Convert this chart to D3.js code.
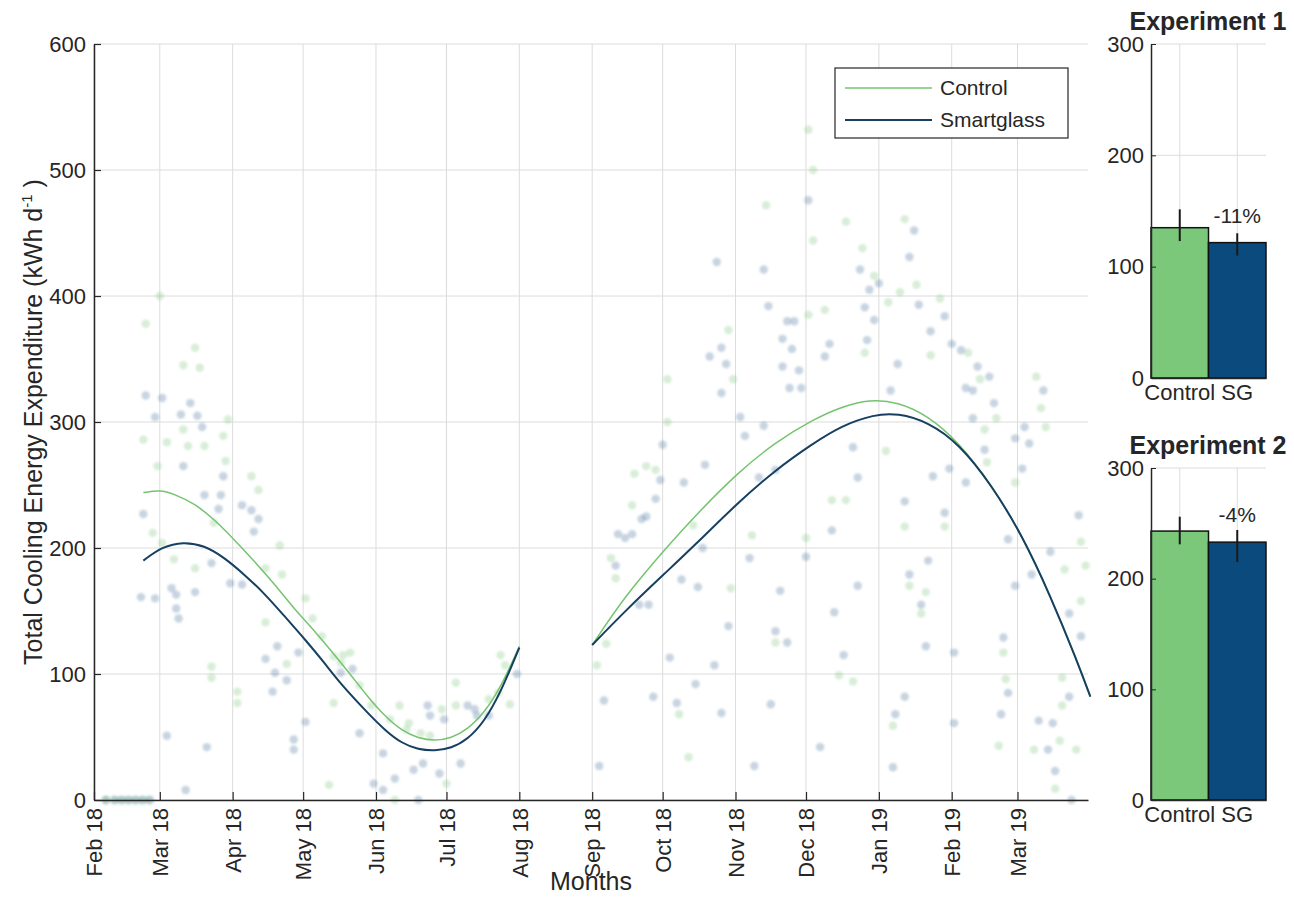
<!DOCTYPE html>
<html><head><meta charset="utf-8">
<script src="https://cdn.jsdelivr.net/npm/d3@7"></script>
<style>
body{margin:0;background:#fff}
svg{display:block}
text{font-family:"Liberation Sans",Arial,Helvetica,sans-serif;fill:#262626}
</style>
</head><body>
<svg id="c" width="1294" height="914"></svg>
<script>
// ---------------- data ----------------
const startDate = "2018-02-01";
const endDate = "2019-03-31";
const monthTicks = ["2018-02-01","2018-03-01","2018-04-01","2018-05-01","2018-06-01","2018-07-01","2018-08-01",
  "2018-09-01","2018-10-01","2018-11-01","2018-12-01","2019-01-01","2019-02-01","2019-03-01"];
const yTicks = [0,100,200,300,400,500,600];
const seriesNames = ["Control","Smartglass"];

// daily points: [days since 2018-02-01, kWh/d]
const controlPts = [[5,0],[8,0],[11,0],[14,0],[17,0],[20,0],[23,0],
 [22,378],[28,400],[43,359],[38,345],[45,343],[57,302],[38,294],[21,286],[31,284],[47,281],[55,289],[40,281],[27,265],
 [56,269],[67,257],[70,246],[25,212],[51,220],[29,204],[34,191],[43,184],[73,184],[80,179],[79,202],[90,160],[93,144],
 [97,130],[102,114],[105,109],[82,108],[73,141],[50,106],[50,97],[61,86],[61,77],[100,12],[102,77],
 [106,115],[109,117],[113,91],[118,75],[130,75],[126,64],[134,61],[139,53],[143,51],[150,13],[154,93],[154,75],
 [168,80],[172,85],[175,107],[177,76],[173,115],[148,72],[133,56],[128,0],
 [229,234],[220,192],[222,176],[230,259],[235,265],[239,262],[244,300],[244,334],[255,218],[218,124],[214,107],
 [249,68],[253,34],[270,373],[272,334],[271,168],[280,210],[290,125],[303,208],[304,385],[311,389],[314,238],[317,99],
 [286,472],[304,532],[306,500],[306,444],
 [320,459],[345,461],[327,438],[332,416],[328,355],[338,395],[343,403],[350,409],[360,398],[356,353],[372,355],[377,334],
 [384,303],[379,294],[401,336],[403,311],[405,296],[380,268],[337,277],[320,238],[392,252],[345,217],[362,217],[413,183],
 [420,205],[422,186],[420,158],[347,170],[354,165],[352,148],[323,94],[340,59],[387,117],[388,96],[385,43],[412,97],
 [412,75],[411,47],[400,40],[409,9],[418,40]];

const sgPts = [[5,0],[9,0],[12,0],[15,0],[18,0],[21,0],[24,0],
 [22,321],[29,319],[41,315],[26,304],[37,306],[44,305],[46,296],[38,265],[55,257],[47,242],[54,242],[53,231],[63,234],
 [67,230],[70,223],[68,213],[21,227],[50,188],[20,161],[26,160],[33,168],[35,163],[43,165],[35,152],[36,144],[58,172],
 [63,171],[87,117],[78,122],[73,112],[77,101],[82,95],[76,86],[90,62],[85,48],[85,40],[31,51],[48,42],[39,8],
 [110,104],[105,101],[113,53],[123,37],[123,8],[119,13],[128,17],[136,24],[140,29],[138,0],[142,75],[143,67],[147,21],
 [149,64],[156,29],[159,75],[162,72],[163,67],[168,67],[180,100],
 [265,427],[285,421],[287,392],[267,359],[262,352],[269,346],[267,323],[275,304],[277,289],[285,297],[295,380],[298,380],
 [293,366],[297,358],[293,344],[300,341],[296,327],[301,327],[311,352],[313,362],[283,256],[290,262],[303,193],[314,214],
 [279,192],[292,166],[315,149],[319,115],[290,134],[295,125],[288,76],[281,27],[309,42],[267,69],[264,107],[256,92],
 [248,77],[238,82],[217,79],[215,27],[245,113],[270,138],[259,200],[257,169],[250,175],[251,252],[260,266],[242,282],
 [241,254],[239,239],[233,223],[235,225],[223,211],[226,208],[229,211],[222,186],[232,155],[236,155],[304,476],
 [349,452],[347,431],[326,421],[334,410],[330,405],[328,391],[332,381],[329,365],[351,393],[362,384],[356,372],[342,346],
 [339,325],[365,362],[369,357],[376,344],[381,336],[371,327],[374,325],[383,315],[374,303],[404,325],[396,296],[392,287],
 [398,283],[379,278],[323,280],[325,256],[357,257],[364,263],[371,252],[395,263],[345,237],[362,228],[389,207],[399,179],
 [392,170],[407,197],[419,226],[420,130],[415,148],[355,190],[347,179],[352,155],[354,122],[325,170],[345,82],[341,68],
 [340,26],[366,117],[366,61],[387,129],[389,85],[386,68],[415,82],[402,63],[408,61],[406,40],[409,23],[416,0]];

// fitted curves
const controlFit1 = [[21,244],[28,246],[34,243],[43,235],[51,223],[60,206],[68,190],[77,171],[85,152],[94,134],[102,116],
 [109,100],[116,83],[124,66],[131,55],[138,49],[145,47],[152,49],[159,56],[166,69],[173,89],[181,122]];
const sgFit1 = [[21,190],[29,201],[38,205],[47,202],[55,193],[64,179],[73,163],[81,146],[90,127],[98,109],[105,92],
 [116,70],[124,55],[131,45],[138,40],[145,39],[152,41],[159,48],[166,62],[173,85],[181,121]];
const controlFit2 = [[212,123],[226,162],[243,199],[255,224],[274,260],[290,284],[306,302],[318,312],[330,318],
 [342,316],[355,305],[368,284],[382,250],[395,210],[407,162],[418,112],[424,82]];
const sgFit2 = [[212,123],[226,150],[243,180],[255,201],[274,236],[290,262],[306,283],[318,297],[332,306],
 [342,307],[355,300],[368,283],[382,250],[395,210],[407,162],[418,112],[424,82]];

// bar insets
const barCategories = ["Control","SG"];
const barTicks = [0,100,200,300];
const exp1Title = "Experiment 1";
const exp1Values = [135, 121.6];
const exp1Lower = [123, 110];
const exp1Upper = [151.5, 130];
const exp1Change = "-11%";
const exp2Title = "Experiment 2";
const exp2Values = [243, 233];
const exp2Lower = [231, 215];
const exp2Upper = [256, 244];
const exp2Change = "-4%";

// ---------------- drawing ----------------
const svg = d3.select("#c");
const parse = d3.timeParse("%Y-%m-%d");
const t0 = parse(startDate);
const toDate = d => d3.timeDay.offset(t0, d);
const GREEN = "#7cc87b", BLUE = "#0b4a7c", LINEGREEN = "#74c46f", LINEBLUE = "#163f62";
const GRID = "#dcdcdc", AX = "#262626";
const TICKFS = 22, LABFS = 25;

const defs = svg.append("defs");
defs.append("filter").attr("id","soft").append("feGaussianBlur").attr("stdDeviation",0.9);

const M = {l:94, r:1088, t:44, b:800};
const x = d3.scaleTime().domain([t0, parse(endDate)]).range([M.l, M.r]);
const y = d3.scaleLinear().domain([0,600]).range([M.b, M.t]);

const main = svg.append("g");
// grid
main.append("g").selectAll("line").data(yTicks).join("line")
  .attr("x1",M.l).attr("x2",M.r).attr("y1",d=>y(d)).attr("y2",d=>y(d))
  .attr("stroke",GRID).attr("stroke-width",1);
main.append("g").selectAll("line").data(monthTicks.map(parse)).join("line")
  .attr("x1",d=>x(d)).attr("x2",d=>x(d)).attr("y1",M.t).attr("y2",M.b)
  .attr("stroke",GRID).attr("stroke-width",1);

// scatter
main.append("g").attr("filter","url(#soft)").selectAll("circle").data(controlPts).join("circle")
  .attr("cx",d=>x(toDate(d[0]))).attr("cy",d=>y(d[1])).attr("r",4.2)
  .attr("fill","#86c985").attr("fill-opacity",0.32);
main.append("g").attr("filter","url(#soft)").selectAll("circle").data(sgPts).join("circle")
  .attr("cx",d=>x(toDate(d[0]))).attr("cy",d=>y(d[1])).attr("r",4.2)
  .attr("fill","#46709c").attr("fill-opacity",0.3);

// curves
const line = d3.line().x(d=>x(toDate(d[0]))).y(d=>y(d[1])).curve(d3.curveBasis);
[[controlFit1,LINEGREEN,1.5],[controlFit2,LINEGREEN,1.5],[sgFit1,LINEBLUE,2],[sgFit2,LINEBLUE,2]].forEach(([data,c,w])=>{
  main.append("path").datum(data).attr("d",line).attr("fill","none").attr("stroke",c).attr("stroke-width",w);
});

// axes
const yAxis = main.append("g").attr("transform",`translate(${M.l},0)`)
  .call(d3.axisLeft(y).tickValues(yTicks).tickSizeInner(-7).tickSizeOuter(0).tickPadding(8));
const xAxis = main.append("g").attr("transform",`translate(0,${M.b})`)
  .call(d3.axisBottom(x).tickValues(monthTicks.map(parse)).tickSizeInner(-8).tickSizeOuter(0)
    .tickFormat(d3.timeFormat("%b %y")));
xAxis.selectAll(".tick text").attr("transform","rotate(-90)").attr("text-anchor","end")
  .attr("x",-8).attr("y",0).attr("dy","0.35em");
[yAxis,xAxis].forEach(a=>{
  a.select(".domain").attr("stroke",AX).attr("stroke-width",1.5);
  a.selectAll(".tick line").attr("stroke",AX).attr("stroke-width",1.2);
  a.selectAll(".tick text").attr("font-size",TICKFS).attr("fill",AX).style("font-family","Liberation Sans, Arial");
});

// axis labels
svg.append("text").attr("x",(M.l+M.r)/2).attr("y",890).attr("text-anchor","middle")
  .attr("font-size",LABFS).text("Months");
const yl = svg.append("text").attr("transform",`translate(42,${(M.t+M.b)/2}) rotate(-90)`)
  .attr("text-anchor","middle").attr("font-size",LABFS);
yl.append("tspan").text("Total Cooling Energy Expenditure (kWh d");
yl.append("tspan").attr("font-size",15).attr("dy",-10).text("-1");
yl.append("tspan").attr("dy",10).text(" )");

// legend
const lg = svg.append("g");
lg.append("rect").attr("x",835).attr("y",68).attr("width",233).attr("height",70)
  .attr("fill","#fff").attr("stroke","#262626").attr("stroke-width",1.2);
seriesNames.forEach((n,i)=>{
  const yy = 88 + i*32;
  lg.append("line").attr("x1",845).attr("x2",932).attr("y1",yy).attr("y2",yy)
    .attr("stroke",i?LINEBLUE:LINEGREEN).attr("stroke-width",i?2:1.5);
  lg.append("text").attr("x",940).attr("y",yy).attr("dy","0.35em").attr("font-size",21).text(n);
});

// bar insets
function inset(top, bottom, title, vals, lo, hi, change){
  const xb = d3.scaleBand().domain(barCategories).range([1151,1266]).padding(0);
  const yb = d3.scaleLinear().domain([0,300]).range([bottom, top]);
  const g = svg.append("g");
  g.append("g").selectAll("line").data(barTicks.slice(1)).join("line")
    .attr("x1",1151).attr("x2",1266).attr("y1",d=>yb(d)).attr("y2",d=>yb(d)).attr("stroke",GRID);
  g.append("g").selectAll("line").data(barCategories).join("line")
    .attr("x1",d=>xb(d)+xb.bandwidth()/2).attr("x2",d=>xb(d)+xb.bandwidth()/2)
    .attr("y1",top).attr("y2",bottom).attr("stroke",GRID);
  g.append("g").selectAll("rect").data(vals).join("rect")
    .attr("x",(d,i)=>xb(barCategories[i])).attr("width",xb.bandwidth())
    .attr("y",d=>yb(d)).attr("height",d=>bottom-yb(d))
    .attr("fill",(d,i)=>i?BLUE:GREEN).attr("stroke","#111").attr("stroke-width",1.5);
  g.append("g").selectAll("line").data(vals).join("line")
    .attr("x1",(d,i)=>xb(barCategories[i])+xb.bandwidth()/2).attr("x2",(d,i)=>xb(barCategories[i])+xb.bandwidth()/2)
    .attr("y1",(d,i)=>yb(lo[i])).attr("y2",(d,i)=>yb(hi[i])).attr("stroke","#1a1a1a").attr("stroke-width",2);
  const ya = g.append("g").attr("transform","translate(1151,0)")
    .call(d3.axisLeft(yb).tickValues(barTicks).tickSizeInner(-5).tickSizeOuter(0).tickPadding(7));
  const xa = g.append("g").attr("transform",`translate(0,${bottom})`)
    .call(d3.axisBottom(xb).tickSizeInner(0).tickSizeOuter(0).tickPadding(6));
  [ya,xa].forEach(a=>{
    a.select(".domain").attr("stroke",AX).attr("stroke-width",1.5);
    a.selectAll(".tick line").attr("stroke",AX);
    a.selectAll(".tick text").attr("font-size",TICKFS).attr("fill",AX).style("font-family","Liberation Sans, Arial");
  });
  g.append("text").attr("x",1208).attr("y",top-14).attr("text-anchor","middle")
    .attr("font-size",25).attr("font-weight","bold").attr("fill","#111").text(title);
  g.append("text").attr("x",xb("SG")+xb.bandwidth()/2).attr("y",yb(vals[1])-20).attr("text-anchor","middle")
    .attr("font-size",21).text(change);
}
inset(44, 378, exp1Title, exp1Values, exp1Lower, exp1Upper, exp1Change);
inset(468, 800, exp2Title, exp2Values, exp2Lower, exp2Upper, exp2Change);
</script>
</body></html>
